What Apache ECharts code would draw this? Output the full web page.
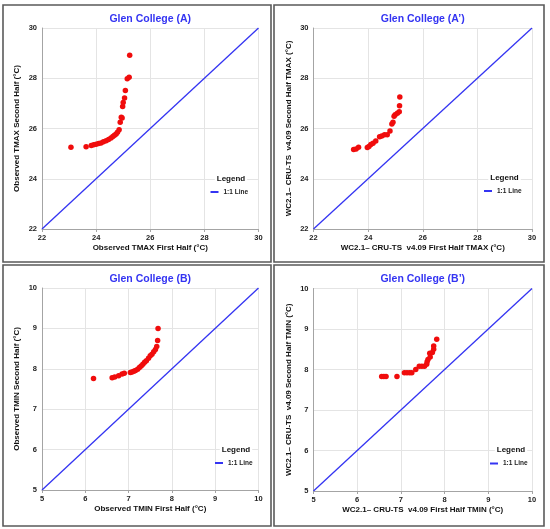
<!DOCTYPE html>
<html>
<head>
<meta charset="utf-8">
<title>Glen College</title>
<script src="https://cdn.jsdelivr.net/npm/echarts@6/dist/echarts.min.js"></script>
<style>
  html, body { margin: 0; padding: 0; background: #fff; }
  #chart { width: 550px; height: 529px; }
</style>
</head>
<body>
<div id="chart"></div>
<script>
// panel titles and axis names
const panelTitles = ['Glen College (A)', 'Glen College (A\u2019)', 'Glen College (B)', 'Glen College (B\u2019)'];
const xNames = [
  'Observed TMAX First Half (°C)',
  'WC2.1\u2013 CRU-TS  v4.09 First Half TMAX (°C)',
  'Observed TMIN First Half (°C)',
  'WC2.1\u2013 CRU-TS  v4.09 First Half TMIN (°C)'
];
const yNames = [
  'Observed TMAX Second Half (°C)',
  'WC2.1\u2013 CRU-TS  v4.09 Second Half TMAX (°C)',
  'Observed TMIN Second Half (°C)',
  'WC2.1\u2013 CRU-TS  v4.09 Second Half TMIN (°C)'
];

// axis ticks
const tmaxTicks = [22, 24, 26, 28, 30];
const tminTicks = [5, 6, 7, 8, 9, 10];

// (A) observed TMAX
const obsTmaxFirst  = [23.07, 23.63, 23.82, 23.91, 24.00, 24.09, 24.18, 24.27, 24.37, 24.46, 24.55, 24.62, 24.68, 24.74, 24.79, 24.85, 24.89, 24.93, 24.96, 24.98, 25.00, 25.05, 25.08, 25.15, 25.22, 25.24];
const obsTmaxSecond = [25.25, 25.27, 25.32, 25.35, 25.37, 25.40, 25.42, 25.47, 25.51, 25.56, 25.62, 25.68, 25.73, 25.78, 25.85, 25.95, 26.25, 26.45, 26.42, 26.88, 27.03, 27.21, 27.51, 27.98, 28.04, 28.92];

// (A') WC2.1 - CRU-TS TMAX
const wcTmaxFirst  = [23.47, 23.56, 23.65, 23.97, 24.03, 24.10, 24.18, 24.28, 24.42, 24.50, 24.60, 24.70, 24.80, 24.87, 24.91, 24.95, 24.99, 25.07, 25.14, 25.15, 25.16];
const wcTmaxSecond = [25.16, 25.18, 25.25, 25.24, 25.28, 25.36, 25.41, 25.50, 25.67, 25.70, 25.75, 25.75, 25.90, 26.18, 26.25, 26.49, 26.55, 26.61, 26.67, 26.91, 27.25];

// (B) observed TMIN
const obsTminFirst  = [6.19, 6.62, 6.68, 6.77, 6.85, 6.90, 7.04, 7.08, 7.12, 7.16, 7.21, 7.25, 7.29, 7.33, 7.37, 7.41, 7.46, 7.50, 7.54, 7.58, 7.62, 7.65, 7.67, 7.68];
const obsTminSecond = [7.76, 7.78, 7.80, 7.83, 7.87, 7.89, 7.91, 7.92, 7.94, 7.96, 7.99, 8.03, 8.07, 8.11, 8.16, 8.20, 8.26, 8.32, 8.36, 8.42, 8.48, 8.55, 8.70, 9.00];

// (B') WC2.1 - CRU-TS TMIN
const wcTminFirst  = [6.56, 6.61, 6.66, 6.91, 7.08, 7.14, 7.20, 7.25, 7.34, 7.42, 7.48, 7.54, 7.59, 7.60, 7.62, 7.67, 7.66, 7.72, 7.75, 7.75, 7.82];
const wcTminSecond = [7.83, 7.83, 7.83, 7.83, 7.92, 7.92, 7.92, 7.92, 8.00, 8.08, 8.08, 8.08, 8.13, 8.19, 8.25, 8.31, 8.40, 8.42, 8.50, 8.58, 8.75];

const FONT = '"Liberation Sans", Arial, sans-serif';
const BLUE = '#3434f2';
const RED = '#f00c0c';
const AXIS_GRAY = '#a4a4a4';

// layout of the 4 panels (pixel boxes)
const boxes = [
  { x: 3,   y: 5,   w: 268, h: 257, grid: { left: 42,    top: 28,    width: 216.5, height: 201 } },
  { x: 274, y: 5,   w: 270, h: 257, grid: { left: 313.5, top: 28,    width: 218.5, height: 201 } },
  { x: 3,   y: 265, w: 268, h: 261, grid: { left: 42,    top: 288,   width: 216.5, height: 202 } },
  { x: 274, y: 265, w: 270, h: 261, grid: { left: 313.5, top: 288.5, width: 218.5, height: 202.5 } }
];
const legendPos = [
  { x: 210.5, y: 192.5, head: 231 },
  { x: 484,   y: 191.5, head: 504.5 },
  { x: 215,   y: 463.5, head: 236 },
  { x: 490,   y: 464,   head: 511 }
];

const seriesX = [obsTmaxFirst, wcTmaxFirst, obsTminFirst, wcTminFirst];
const seriesY = [obsTmaxSecond, wcTmaxSecond, obsTminSecond, wcTminSecond];
const ticks = [tmaxTicks, tmaxTicks, tminTicks, tminTicks];

function zip(a, b) {
  return a.map((v, i) => [v, b[i]]);
}

let grids = [], xAxes = [], yAxes = [], series = [], legends = [], graphics = [];

boxes.forEach((b, i) => {
  const t = ticks[i];
  const min = t[0], max = t[t.length - 1];
  grids.push(b.grid);

  const axisCommon = {
    gridIndex: i,
    type: 'value',
    min: min,
    max: max,
    interval: t[1] - t[0],
    nameLocation: 'middle',
    nameTextStyle: { fontFamily: FONT, fontWeight: 'bold', fontSize: 8, color: '#111' },
    axisLine: { show: true, lineStyle: { color: AXIS_GRAY, width: 1 } },
    axisTick: { show: false },
    axisLabel: { fontFamily: FONT, fontWeight: 'bold', fontSize: 7.5, color: '#222', margin: 5 },
    splitLine: { show: true, lineStyle: { color: '#e4e4e4', width: 1 } }
  };
  xAxes.push(Object.assign({}, axisCommon, {
    name: xNames[i], nameGap: 15,
    axisTick: { show: true, length: 3, lineStyle: { color: AXIS_GRAY } }
  }));
  yAxes.push(Object.assign({}, axisCommon, {
    name: yNames[i], nameGap: 21
  }));

  // 1:1 reference line across the axis range
  series.push({
    name: '1:1 Line',
    type: 'line',
    xAxisIndex: i, yAxisIndex: i,
    data: [[min, min], [max, max]],
    showSymbol: false,
    lineStyle: { color: BLUE, width: 1.3 },
    itemStyle: { color: BLUE },
    silent: true,
    z: 2
  });
  series.push({
    name: 'points' + i,
    type: 'scatter',
    xAxisIndex: i, yAxisIndex: i,
    data: zip(seriesX[i], seriesY[i]),
    symbolSize: 5.5,
    itemStyle: { color: RED, opacity: 1 },
    z: 3
  });

  const lp = legendPos[i];
  legends.push({
    data: ['1:1 Line'],
    left: lp.x,
    top: lp.y - 4,
    padding: 0,
    icon: 'rect',
    itemWidth: 8,
    itemHeight: 2,
    selectedMode: false,
    textStyle: { fontFamily: FONT, fontWeight: 'bold', fontSize: 6.5, color: '#222' }
  });

  // panel frame, title and legend header
  graphics.push({
    type: 'rect',
    shape: { x: b.x, y: b.y, width: b.w, height: b.h },
    style: { fill: null, stroke: '#5a5a5a', lineWidth: 1.6 },
    silent: true
  });
  graphics.push({
    type: 'text',
    x: b.grid.left + b.grid.width / 2,
    y: b.grid.top - 9,
    style: {
      text: panelTitles[i], fill: BLUE,
      font: 'bold 10.5px ' + FONT,
      textAlign: 'center', textVerticalAlign: 'middle'
    }
  });
  graphics.push({
    type: 'text',
    x: lp.head,
    y: lp.y - 14,
    z: 10,
    style: {
      text: 'Legend', fill: '#111',
      font: 'bold 8px ' + FONT,
      backgroundColor: '#fff',
      padding: [1, 2],
      textAlign: 'center', textVerticalAlign: 'middle'
    }
  });
});

const myChart = echarts.init(document.getElementById('chart'), null, { renderer: 'canvas' });
const option = {
  backgroundColor: '#fff',
  animation: false,
  grid: grids,
  xAxis: xAxes,
  yAxis: yAxes,
  legend: legends,
  series: series,
  graphic: graphics
};
myChart.setOption(option);
</script>
</body>
</html>
